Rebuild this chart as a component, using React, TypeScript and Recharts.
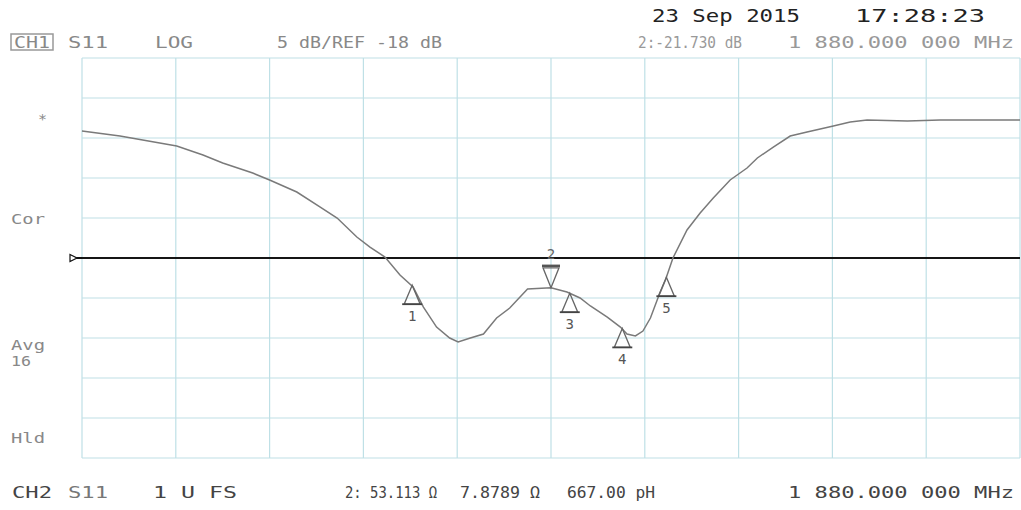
import React from 'react';
import {
  ComposedChart,
  Line,
  Scatter,
  XAxis,
  YAxis,
  CartesianGrid,
  ReferenceLine,
} from 'recharts';

// ---- data (x = position across span, %, y = S11 in dB) ----
const spanPct = [
  0, 4.05, 10.1, 12.9, 15.0, 18.2, 20.0, 22.9, 25.4, 27.2, 29.3, 30.7, 32.3, 33.9, 35.3,
  36.4, 37.8, 39.2, 40.1, 41.4, 42.8, 44.2, 45.6, 47.5, 50.0, 51.7, 53.1, 54.2, 56.0, 57.4,
  58.1, 59.0, 59.8, 60.6, 61.4, 62.2, 63.0, 64.5, 65.9, 67.3, 69.1, 70.9, 72.0, 73.7, 75.5,
  77.3, 80.1, 81.9, 83.7, 88.0, 91.5, 95.0, 100,
];
const s11Db = [
  -2.13, -2.75, -4.0, -5.13, -6.13, -7.38, -8.25, -9.75, -11.63, -13.0, -15.38, -16.63, -17.88,
  -20.13, -21.63, -24.13, -26.63, -28.0, -28.5, -28.0, -27.5, -25.5, -24.25, -21.88, -21.73,
  -22.25, -23.0, -24.0, -25.38, -26.63, -27.5, -27.75, -27.13, -25.5, -23.0, -20.75, -18.0,
  -14.5, -12.38, -10.5, -8.25, -6.75, -5.5, -4.13, -2.75, -2.25, -1.5, -1.0, -0.75, -0.88,
  -0.75, -0.75, -0.75,
];
const markerIds = [1, 2, 3, 4, 5];
const markerPct = [35.2, 50.0, 52.0, 57.6, 62.3];
const markerDb = [-21.4, -21.73, -22.4, -26.8, -20.4];
const refLevelDb = -18;
const xTicks = [0, 10, 20, 30, 40, 50, 60, 70, 80, 90, 100];
const yTicks = [7, 2, -3, -8, -13, -18, -23, -28, -33, -38, -43];

// ---- texts ----
const dateStamp = ['23 Sep 2015', '17:28:23'];
const ch1Header = ['CH1', 'S11', 'LOG', '5 dB/REF -18 dB', '2:-21.730 dB', '1 880.000 000 MHz'];
const sideLabels = ['*', 'Cor', 'Avg', '16', 'Hld'];
const ch2Footer = ['CH2', 'S11', '1 U FS', '2: 53.113 Ω', '7.8789 Ω', '667.00 pH', '1 880.000 000 MHz'];

const trace = spanPct.map((x, i) => ({ x, db: s11Db[i] }));
const markers = markerIds.map((id, i) => ({ id, x: markerPct[i], db: markerDb[i] }));

const MONO = "'DejaVu Sans Mono', monospace";

const MarkerShape = (props: any) => {
  const { cx, cy, payload } = props;
  if (cx == null || cy == null) return null;
  const id = payload.id;
  if (id === 2) {
    return (
      <g>
        <line x1={cx - 9} x2={cx + 9} y1={cy - 22} y2={cy - 22} stroke="#555" strokeWidth={2.5} />
        <path d={`M${cx - 8},${cy - 20} L${cx + 8},${cy - 20} L${cx},${cy} Z`} fill="none" stroke="#666" strokeWidth={1.3} />
        <text x={cx} y={cy - 29} textAnchor="middle" fontFamily={MONO} fontSize={14} fill="#666">
          {id}
        </text>
      </g>
    );
  }
  return (
    <g>
      <path d={`M${cx},${cy} L${cx - 8},${cy + 19} L${cx + 8},${cy + 19} Z`} fill="none" stroke="#666" strokeWidth={1.3} />
      <line x1={cx - 10} x2={cx + 10} y1={cy + 19} y2={cy + 19} stroke="#444" strokeWidth={1.8} />
      <text x={cx} y={cy + 36} textAnchor="middle" fontFamily={MONO} fontSize={14} fill="#555">
        {id}
      </text>
    </g>
  );
};

const RefMark = (props: any) => {
  const vb = props.viewBox;
  if (!vb) return null;
  const x = vb.x;
  const y = vb.y;
  return (
    <g>
      <line x1={x - 12} x2={x} y1={y} y2={y} stroke="#111" strokeWidth={2} />
      <path d={`M${x - 12},${y - 3.5} L${x - 5},${y} L${x - 12},${y + 3.5} Z`} fill="#fff" stroke="#111" strokeWidth={1.2} />
    </g>
  );
};

const T = (p: { x: number; y: number; w: number; s?: number; c?: string; children: any }) => (
  <text
    x={p.x}
    y={p.y}
    textLength={p.w}
    lengthAdjust="spacingAndGlyphs"
    fontFamily={MONO}
    fontSize={p.s ?? 15}
    fill={p.c ?? '#888'}
    style={{ whiteSpace: 'pre' }}
  >
    {p.children}
  </text>
);

export default function App() {
  return (
    <div style={{ position: 'absolute', left: 0, top: 0, width: 1021, height: 510, background: '#fff' }}>
      <ComposedChart width={1021} height={510} margin={{ top: 58, right: 1, bottom: 52, left: 82 }}>
        <XAxis dataKey="x" type="number" domain={[0, 100]} ticks={xTicks} hide allowDuplicatedCategory={false} />
        <YAxis type="number" domain={[-43, 7]} ticks={yTicks} hide />
        <CartesianGrid stroke="#bfe0e6" strokeWidth={1.2} />
        <ReferenceLine y={refLevelDb} stroke="#151515" strokeWidth={2} label={<RefMark />} />
        <Line
          data={trace}
          dataKey="db"
          type="linear"
          stroke="#7a7a7a"
          strokeWidth={1.5}
          dot={false}
          isAnimationActive={false}
        />
        <Scatter data={markers} dataKey="db" shape={<MarkerShape />} isAnimationActive={false} />
      </ComposedChart>
      <svg
        width={1021}
        height={510}
        style={{ position: 'absolute', left: 0, top: 0, pointerEvents: 'none' }}
      >
        <T x={652} y={22} w={148} s={18} c="#222">{dateStamp[0]}</T>
        <T x={855} y={22} w={130} s={18} c="#222">{dateStamp[1]}</T>

        <rect x={11} y={34} width={42} height={16} fill="none" stroke="#999" strokeWidth={1.5} />
        <T x={14} y={48} w={36}>{ch1Header[0]}</T>
        <T x={68} y={48} w={40}>{ch1Header[1]}</T>
        <T x={155} y={48} w={38}>{ch1Header[2]}</T>
        <T x={277} y={48} w={165}>{ch1Header[3]}</T>
        <T x={638} y={48} w={104} c="#999">{ch1Header[4]}</T>
        <T x={788} y={48} w={226} c="#999">{ch1Header[5]}</T>

        <T x={38} y={124} w={9} s={14}>{sideLabels[0]}</T>
        <T x={11} y={224} w={34} s={14}>{sideLabels[1]}</T>
        <T x={11} y={350} w={34} s={14}>{sideLabels[2]}</T>
        <T x={11} y={366} w={20} s={14}>{sideLabels[3]}</T>
        <T x={11} y={443} w={34} s={14}>{sideLabels[4]}</T>

        <T x={12} y={498} w={40} c="#444">{ch2Footer[0]}</T>
        <T x={68} y={498} w={40} c="#777">{ch2Footer[1]}</T>
        <T x={153} y={498} w={84} c="#444">{ch2Footer[2]}</T>
        <T x={345} y={498} w={92} c="#444">{ch2Footer[3]}</T>
        <T x={460} y={498} w={80} c="#444">{ch2Footer[4]}</T>
        <T x={567} y={498} w={88} c="#444">{ch2Footer[5]}</T>
        <T x={788} y={498} w={226} c="#444">{ch2Footer[6]}</T>
      </svg>
    </div>
  );
}
